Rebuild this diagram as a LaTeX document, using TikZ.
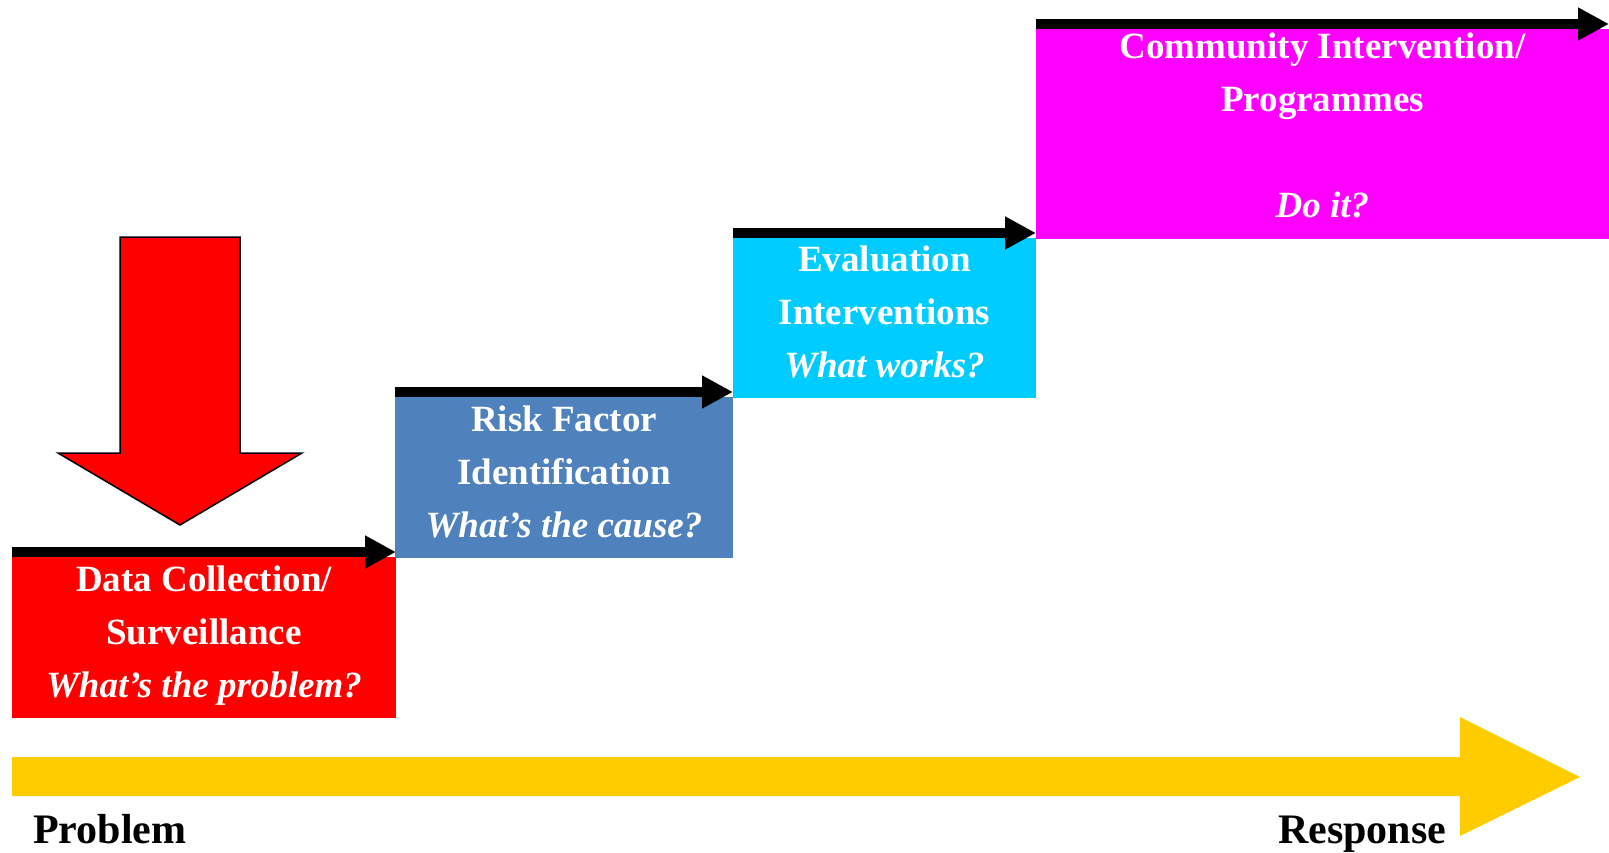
\documentclass[tikz,border=0pt]{standalone}
\usepackage{amsmath}
\usepackage{fontspec}
\setmainfont{Liberation Serif}
\usepackage{tikz}
\usetikzlibrary{calc}
\usetikzlibrary{arrows.meta}
\definecolor{dcred}{HTML}{FF0000}
\definecolor{rfblue}{HTML}{4F81BD}
\definecolor{evcyan}{HTML}{00CCFF}
\definecolor{cimagenta}{HTML}{FF00FF}
\definecolor{pryellow}{HTML}{FFCC00}
\newcommand{\hstrut}[1]{\rule{0pt}{#1}}
\newcommand{\dstrut}[1]{\rule[-#1]{0pt}{#1}}

\begin{document}
\begin{tikzpicture}[x=1pt,y=-1pt,>={Triangle[length=31pt,width=31pt]},
        stepbox/.style={inner sep=0pt,outer sep=0pt,anchor=north west,text=white,align=center,
            font=\fontsize{37}{53}\selectfont\bfseries},
        stepbar/.style={->,line width=10pt},
        endlabel/.style={inner sep=0pt,anchor=base west,font=\fontsize{42}{50}\selectfont\bfseries}]
        \useasboundingbox(0,0)rectangle(1609,852);
        % problem -> response
        \fill[pryellow](12,757)--(1460,757)--(1460,717)--(1580,777)--(1460,836)--(1460,796)--(12,796)--cycle;
        \node[endlabel](pb)at(33,843){Problem};
        \node[endlabel](rs)at(1278,843){Response};
        % steps
        \node[stepbox,fill=dcred,minimum width=384pt,minimum height=161pt](dc)at(12,557)
            {\hstrut{34pt}Data Collection/\\Surveillance\\\textit{What’s the problem?}\dstrut{21pt}};
        \node[stepbox,fill=rfblue,minimum width=338pt,minimum height=161pt](rf)at(395,397)
            {\hstrut{34pt}Risk Factor\\Identification\\\textit{What’s the cause?}\dstrut{21pt}};
        \node[stepbox,fill=evcyan,minimum width=303pt,minimum height=160pt](ev)at(733,238)
            {\hstrut{33pt}Evaluation\\Interventions\\\textit{What works?}\dstrut{20pt}};
        \node[stepbox,fill=cimagenta,minimum width=573pt,minimum height=210pt](ci)at(1036,29)
            {\hstrut{29pt}Community Intervention/\\Programmes\\[53pt]\textit{Do it?}\dstrut{22pt}};
        \draw[stepbar]([yshift=5pt]dc.north west)--([yshift=5pt]dc.north east);
        \draw[stepbar]([yshift=5pt]rf.north west)--([yshift=5pt]rf.north east);
        \draw[stepbar]([yshift=5pt]ev.north west)--([yshift=5pt]ev.north east);
        \draw[stepbar]([yshift=5pt]ci.north west)--([yshift=5pt]ci.north east);
        % down arrow
        \draw[fill=dcred,line width=1.5pt](120,237)--(240,237)--(240,453)--(302,453)--(180,525)--(58,453)--(120,453)--cycle;
    \end{tikzpicture}
\end{document}
